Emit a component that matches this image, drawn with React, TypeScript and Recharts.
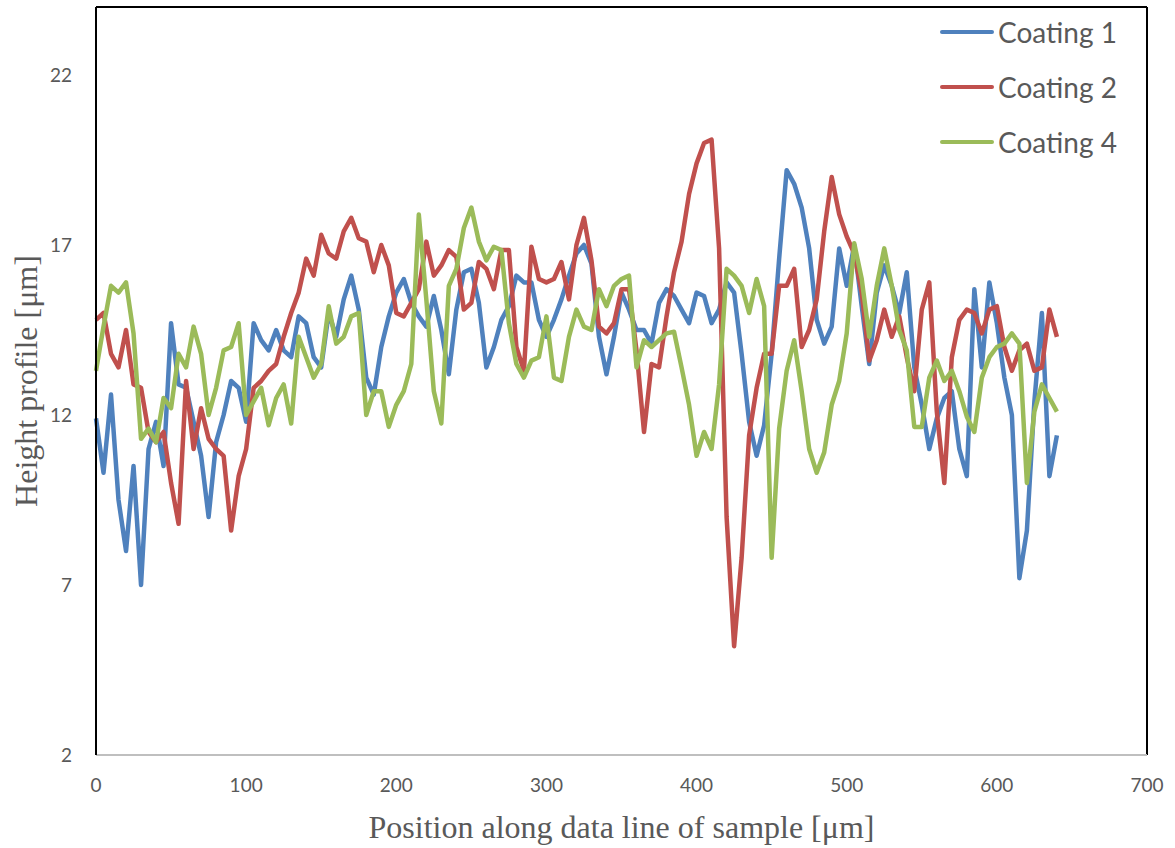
import React from 'react';
import { LineChart, Line, XAxis, YAxis, Legend, ReferenceLine } from 'recharts';

// position along the line, µm (read every 5 µm)
const positions = [
    0, 5, 10, 15, 20, 25, 30, 35, 40, 45, 50, 55, 60, 65, 70, 75, 80, 85, 90, 95,
    100, 105, 110, 115, 120, 125, 130, 135, 140, 145, 150, 155, 160, 165, 170, 175, 180, 185, 190, 195,
    200, 205, 210, 215, 220, 225, 230, 235, 240, 245, 250, 255, 260, 265, 270, 275, 280, 285, 290, 295,
    300, 305, 310, 315, 320, 325, 330, 335, 340, 345, 350, 355, 360, 365, 370, 375, 380, 385, 390, 395,
    400, 405, 410, 415, 420, 425, 430, 435, 440, 445, 450, 455, 460, 465, 470, 475, 480, 485, 490, 495,
    500, 505, 510, 515, 520, 525, 530, 535, 540, 545, 550, 555, 560, 565, 570, 575, 580, 585, 590, 595,
    600, 605, 610, 615, 620, 625, 630, 635, 640,
];

const coating1 = [
    11.9, 10.3, 12.6, 9.5, 8.0, 10.5, 7.0, 11.0, 11.8, 10.5, 14.7, 12.9, 12.8, 11.8, 10.8, 9.0, 11.2, 12.0, 13.0, 12.8,
    11.8, 14.7, 14.2, 13.9, 14.5, 13.9, 13.7, 14.9, 14.7, 13.7, 13.4, 15.0, 14.3, 15.4, 16.1, 15.1, 13.1, 12.6, 14.0, 14.9,
    15.6, 16.0, 15.3, 14.9, 14.6, 15.5, 14.5, 13.2, 15.1, 16.2, 16.3, 15.3, 13.4, 14.0, 14.8, 15.2, 16.1, 15.9, 15.9, 14.8,
    14.3, 14.8, 15.4, 16.1, 16.75, 17.0, 16.45, 14.3, 13.2, 14.3, 15.6, 15.1, 14.5, 14.5, 14.1, 15.3, 15.7, 15.5, 15.1, 14.7,
    15.6, 15.5, 14.7, 15.1, 15.9, 15.6, 13.8, 11.8, 10.8, 11.7, 13.8, 16.6, 19.2, 18.8, 18.1, 16.9, 14.8, 14.1, 14.6, 16.9,
    15.8, 17.0, 15.2, 13.5, 15.6, 16.4, 15.8, 15.0, 16.2, 13.4, 12.3, 11.0, 11.9, 12.5, 12.7, 11.0, 10.2, 15.7, 13.4, 15.9,
    14.7, 13.1, 12.0, 7.2, 8.6, 12.4, 15.0, 10.2, 11.4,
];

const coating2 = [
    14.8, 15.0, 13.8, 13.4, 14.5, 12.9, 12.8, 11.5, 11.2, 11.5, 10.0, 8.8, 13.0, 11.0, 12.2, 11.3, 11.0, 10.8, 8.6, 10.2,
    11.0, 12.8, 13.0, 13.3, 13.5, 14.3, 15.0, 15.6, 16.6, 16.1, 17.3, 16.75, 16.6, 17.4, 17.8, 17.2, 17.1, 16.2, 17.0, 16.4,
    15.0, 14.9, 15.3, 15.7, 17.1, 16.1, 16.4, 16.85, 16.65, 15.1, 15.3, 16.5, 16.3, 15.7, 16.85, 16.85, 14.0, 13.3, 16.95, 16.0,
    15.9, 16.0, 16.5, 15.4, 17.0, 17.8, 16.55, 14.6, 14.4, 14.7, 15.7, 15.7, 13.9, 11.5, 13.5, 13.4, 14.9, 16.2, 17.1, 18.5,
    19.4, 20.0, 20.1, 16.9, 9.0, 5.2, 7.8, 11.4, 12.8, 13.8, 13.8, 15.8, 15.8, 16.3, 14.0, 14.5, 15.4, 17.4, 19.0, 17.9,
    17.25, 16.75, 15.6, 13.6, 14.2, 15.1, 14.3, 14.9, 13.7, 12.7, 15.1, 15.9, 12.1, 10.0, 13.7, 14.8, 15.1, 15.0, 14.4, 15.1,
    15.2, 14.0, 13.3, 13.9, 14.1, 13.3, 13.4, 15.1, 14.3,
];

const coating4 = [
    13.3, 14.6, 15.8, 15.6, 15.9, 14.4, 11.3, 11.6, 11.2, 12.5, 12.2, 13.8, 13.4, 14.6, 13.8, 12.0, 12.8, 13.9, 14.0, 14.7,
    12.0, 12.4, 12.8, 11.7, 12.5, 12.9, 11.75, 14.3, 13.7, 13.1, 13.5, 15.2, 14.1, 14.3, 14.9, 15.0, 12.0, 12.7, 12.7, 11.65,
    12.3, 12.7, 13.5, 17.9, 15.4, 12.7, 11.75, 15.8, 16.3, 17.5, 18.1, 17.1, 16.55, 16.95, 16.85, 14.7, 13.5, 13.1, 13.6, 13.7,
    14.9, 13.1, 13.0, 14.3, 15.1, 14.6, 14.5, 15.7, 15.2, 15.8, 16.0, 16.1, 13.4, 14.2, 14.0, 14.2, 14.4, 14.45, 13.4, 12.3,
    10.8, 11.5, 11.0, 12.9, 16.3, 16.1, 15.8, 15.0, 16.0, 15.2, 7.8, 11.6, 13.3, 14.2, 12.7, 11.0, 10.3, 10.9, 12.3, 13.0,
    14.4, 17.05, 16.0, 14.3, 15.8, 16.9, 15.8, 14.5, 13.9, 11.65, 11.65, 13.1, 13.6, 13.0, 13.3, 12.7, 11.95, 11.5, 13.1, 13.7,
    14.0, 14.1, 14.4, 14.1, 10.0, 12.1, 12.9, 12.5, 12.1,
];

const xTicks = [0, 100, 200, 300, 400, 500, 600, 700];
const yTicks = [2, 7, 12, 17, 22];

const data = positions.map((x, i) => ({ x, c1: coating1[i], c2: coating2[i], c4: coating4[i] }));

const grey = '#595959';
const tickStyle = { fill: grey, fontSize: 19, fontFamily: 'Lato, sans-serif' };
const titleFont = '"Liberation Serif", "Times New Roman", serif';

const XTitle = (props: any) => {
    const vb = props.viewBox;
    return (
        <text x={vb.x + vb.width / 2} y={838} textAnchor="middle" fill={grey} fontSize={32} fontFamily={titleFont}>
            Position along data line of sample [μm]
        </text>
    );
};

const YTitle = (props: any) => {
    const vb = props.viewBox;
    const cx = 26;
    const cy = vb.y + vb.height / 2;
    return (
        <text x={cx} y={cy} transform={`rotate(-90, ${cx}, ${cy})`} textAnchor="middle" dominantBaseline="central"
            fill={grey} fontSize={32} fontFamily={titleFont}>
            Height profile [μm]
        </text>
    );
};

const renderLegend = (props: any) => {
    const { payload } = props;
    return (
        <div>
            {payload.map((entry: any) => (
                <div key={entry.value} style={{ display: 'flex', alignItems: 'center', height: 55 }}>
                    <div style={{ width: 54, height: 4, borderRadius: 2, background: entry.color, marginRight: 4 }} />
                    <span style={{ color: grey, fontSize: 28, fontFamily: 'Lato, sans-serif' }}>{entry.value}</span>
                </div>
            ))}
        </div>
    );
};

const App: React.FC = () => {
    return (
        <div style={{ position: 'absolute', left: 0, top: 0, width: 1175, height: 848, background: '#fff' }}>
            <LineChart width={1175} height={848} data={data} margin={{ top: 7, right: 28, bottom: 0, left: 0 }}>
                <XAxis dataKey="x" type="number" domain={[0, 700]} ticks={xTicks} height={93}
                    axisLine={{ stroke: '#bfbfbf', strokeWidth: 2 }} tickLine={false} tickSize={16} tickMargin={8}
                    tick={tickStyle} label={XTitle} />
                <YAxis type="number" domain={[2, 24]} ticks={yTicks} width={96}
                    axisLine={{ stroke: '#000', strokeWidth: 2 }} tickLine={false} tickSize={16} tickMargin={8}
                    tick={tickStyle} label={YTitle} />
                <ReferenceLine y={24} stroke="#000" strokeWidth={2} />
                <ReferenceLine x={700} stroke="#000" strokeWidth={2} />
                <Legend content={renderLegend} layout="horizontal" verticalAlign="middle" align="center"
                    wrapperStyle={{ top: 4, left: 940, width: 230 }} />
                <Line type="linear" dataKey="c1" name="Coating 1" stroke="#4f81bd" strokeWidth={4.5} dot={false}
                    activeDot={false} strokeLinejoin="round" isAnimationActive={false} />
                <Line type="linear" dataKey="c2" name="Coating 2" stroke="#c0504d" strokeWidth={4.5} dot={false}
                    activeDot={false} strokeLinejoin="round" isAnimationActive={false} />
                <Line type="linear" dataKey="c4" name="Coating 4" stroke="#9bbb59" strokeWidth={4.5} dot={false}
                    activeDot={false} strokeLinejoin="round" isAnimationActive={false} />
            </LineChart>
        </div>
    );
};

export default App;
